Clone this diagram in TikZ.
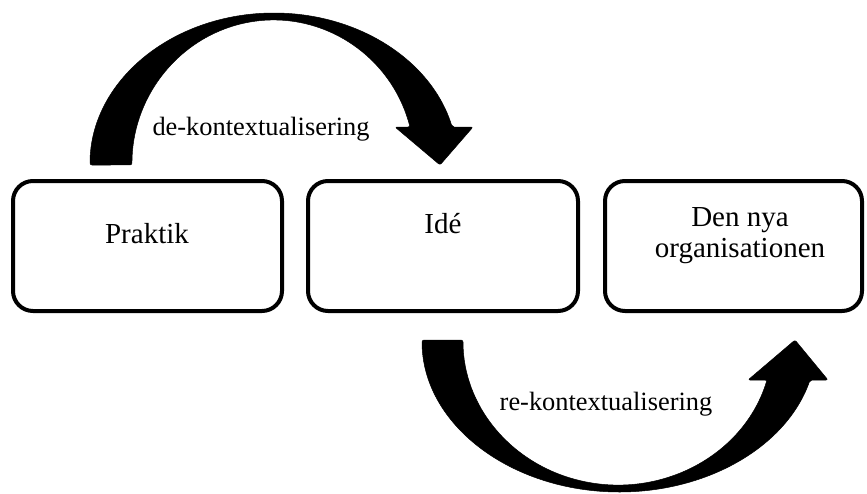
\documentclass[tikz,border=0pt]{standalone}
\usepackage{fontspec}
\setmainfont{Liberation Serif}
\begin{document}
\begin{tikzpicture}[x=1pt,y=-1pt,
  box/.style={draw=black,line width=4pt,rounded corners=20pt,minimum width=#1,minimum height=130pt,inner sep=0pt},
  boxtext/.style={anchor=base,inner sep=0pt,font=\fontsize{29}{31}\selectfont},
  arrowlabel/.style={anchor=base,inner sep=0pt,font=\fontsize{26.4}{30}\selectfont},
  bigarrow/.style={fill=black,draw=black,line width=0.5pt,line join=round}]
\useasboundingbox (0,0) rectangle (867,493);
% boxes
\node[box=269pt] (praktik) at (147.5,246) {};
\node[box=270pt] (ide) at (443,246) {};
\node[box=257pt] (org) at (733.5,246) {};
% box texts
\node[boxtext] (tpraktik) at (147,243) {Praktik};
\node[boxtext] (tide) at (443,233) {Idé};
\node[boxtext] (torg1) at (740,226) {Den nya};
\node[boxtext] (torg2) at (740,257) {organisationen};
% upper curved arrow
\fill[bigarrow,rounded corners=2pt] (90,165)
  arc[start angle=180,end angle=14.48,x radius=184pt,y radius=152pt]
  -- (473,127) -- (440,165) -- (395,127) -- (410,127)
  arc[start angle=15.19,end angle=180,x radius=141.5pt,y radius=145pt]
  -- cycle;
% lower curved arrow
\fill[bigarrow,rounded corners=2pt] (422,340)
  arc[start angle=180,end angle=344.74,x radius=197.5pt,y radius=152pt]
  -- (828,380) -- (795,340) -- (748,380) -- (767,380)
  arc[start angle=344.0,end angle=180,x radius=155pt,y radius=145pt]
  -- cycle;
% labels
\node[arrowlabel] (lde) at (261,135) {de-kontextualisering};
\node[arrowlabel] (lre) at (606,410) {re-kontextualisering};
\end{tikzpicture}
\end{document}
